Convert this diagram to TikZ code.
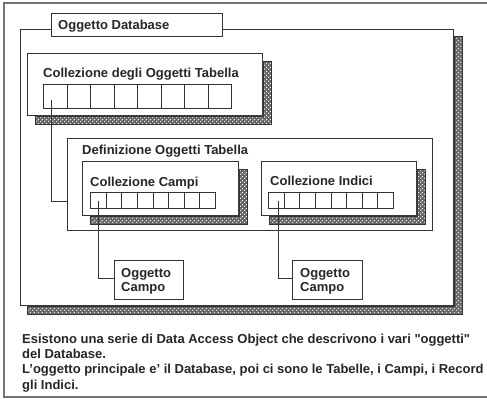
\documentclass[tikz,border=0pt]{standalone}
\usepackage{fontspec}
\setmainfont{Liberation Sans}
\newfontfamily\plainsans{Liberation Sans}
\newcommand{\dq}{{\plainsans\symbol{34}}}
\usetikzlibrary{patterns,calc}
\pgfdeclarepatternformonly{holes}{\pgfqpoint{0pt}{0pt}}{\pgfqpoint{4pt}{4pt}}{\pgfqpoint{4pt}{4pt}}{%
  \pgfpathcircle{\pgfqpoint{1pt}{1pt}}{0.85pt}%
  \pgfpathcircle{\pgfqpoint{3pt}{3pt}}{0.85pt}%
  \pgfusepath{fill}}
\definecolor{ink}{gray}{0.2}
\tikzset{
  box/.style={draw=ink, fill=white, line width=0.8pt, anchor=north west, inner sep=0pt},
  cellbox/.style={draw=ink, fill=white, line width=0.7pt, anchor=north west, inner sep=0pt},
  lbl/.style={anchor=base west, inner sep=0pt, text=black!85, font=\fontsize{13}{14}\selectfont\bfseries},
  conn/.style={draw=ink, line width=0.8pt},
  shadowband/.style={draw=ink, line width=0.5pt, preaction={fill=black!60}, pattern=holes, pattern color=white}
}
\newcommand{\shadowof}[2]{%
  \path[shadowband] ([yshift=-#2pt]#1.north east) -- ([xshift=8pt,yshift=-#2pt]#1.north east)
    -- ([xshift=8pt,yshift=-8pt]#1.south east) -- ([xshift=#2pt,yshift=-8pt]#1.south west)
    -- ([xshift=#2pt]#1.south west) -- (#1.south east) -- cycle;}
\begin{document}
\begin{tikzpicture}[x=1pt,y=-1pt]
\useasboundingbox[fill=white] (0,0) rectangle (487,402);
% outer frame
\draw[draw=black!55, line width=1.2pt] (487,3) -- (4,3) -- (4,397) -- (487,397);
% database
\node[box, minimum width=433pt, minimum height=276pt] (db) at (20,29) {};
\shadowof{db}{7}
\node[box, minimum width=171pt, minimum height=23pt] (dbtitle) at (51,13) {};
\node[lbl] (dbtext) at (58,29) {Oggetto Database};
% tabella collection
\node[box, minimum width=235pt, minimum height=62pt] (tab) at (27,53) {};
\shadowof{tab}{8}
\node[lbl] (tabtext) at (43,77) {Collezione degli Oggetti Tabella};
\foreach \i in {1,...,8}
  \node[cellbox, minimum width=23.5pt, minimum height=24pt] (t\i) at ({43+23.5*(\i-1)},84) {};
% definizione
\node[box, minimum width=365pt, minimum height=92pt] (def) at (67,138) {};
\node[lbl] (deftext) at (82,154) {Definizione Oggetti Tabella};
% campi
\node[box, minimum width=156pt, minimum height=54pt] (campi) at (82,161) {};
\shadowof{campi}{8}
\node[lbl] (campitext) at (90,186) {Collezione Campi};
\foreach \i in {1,...,8}
  \node[cellbox, minimum width=15.625pt, minimum height=16pt] (cc\i) at ({90+15.625*(\i-1)},192) {};
% indici
\node[box, minimum width=155pt, minimum height=54pt] (indici) at (261,161) {};
\shadowof{indici}{8}
\node[lbl] (inditext) at (270,185) {Collezione Indici};
\foreach \i in {1,...,8}
  \node[cellbox, minimum width=15.625pt, minimum height=16pt] (ci\i) at ({268+15.625*(\i-1)},192) {};
% oggetto campo boxes
\node[box, minimum width=69pt, minimum height=39pt] (oc1) at (114,260) {};
\node[lbl, align=left] (oc1text) at (121,291) {Oggetto\\Campo};
\node[box, minimum width=70pt, minimum height=39pt] (oc2) at (292,260) {};
\node[lbl, align=left] (oc2text) at (300,291) {Oggetto\\Campo};
% connectors
\coordinate (s1) at ([xshift=-4pt,yshift=-4pt]t1.center);
\draw[conn] (s1) |- ($(def.west)+(0,17)$);
\coordinate (s2) at ([yshift=-1pt]cc1.center);
\draw[conn] (s2) |- ([yshift=2pt]oc1.west);
\coordinate (s3) at ([xshift=2pt,yshift=-1pt]ci1.center);
\draw[conn] (s3) |- ([yshift=2pt]oc2.west);
% bottom text
\node[anchor=base west, inner sep=0pt, align=left, text=black!85,
      font=\fontsize{13}{15.3}\selectfont\bfseries] (note) at (22,389)
  {Esistono una serie di Data Access Object che descrivono i vari \dq oggetti\dq\\
   del Database.\\
   L'oggetto principale e' il Database, poi ci sono le Tabelle, i Campi, i Record\\
   gli Indici.};
\end{tikzpicture}
\end{document}
